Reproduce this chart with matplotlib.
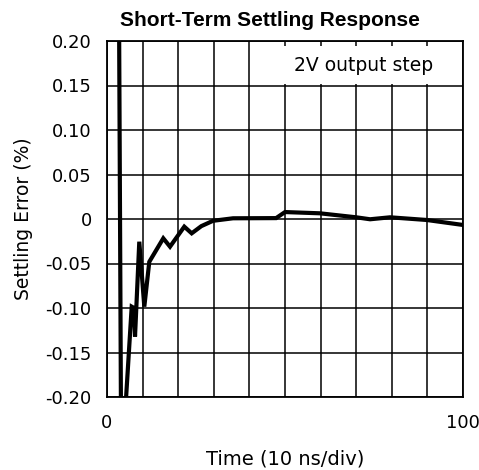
"""Short-term settling response: settling error (%) vs time, 10 ns/div."""
import matplotlib
matplotlib.use("Agg")
import matplotlib.pyplot as plt
from matplotlib.ticker import FixedLocator, FuncFormatter

# (x in divisions*10, y in %)
time_div = [3.3, 3.95, 4.75, 6.94, 7.6, 7.87, 9.07, 10.48, 11.88, 15.81, 17.70,
            21.71, 23.79, 26.5, 29.8, 35.4, 47.5, 50.0, 59.8, 70.0, 73.9, 79.5,
            89.8, 100.0]
settle_err = [0.30, -0.24, -0.24, -0.0985, -0.10, -0.132, -0.0255, -0.0985, -0.0481,
              -0.0217, -0.0311, -0.0086, -0.0161, -0.008, -0.002, 0.0008, 0.001,
              0.0078, 0.0064, 0.0019, -0.0003, 0.0019, -0.0011, -0.0067]

x_grid = list(range(0, 101, 10))
y_ticks = [-0.20, -0.15, -0.10, -0.05, 0.0, 0.05, 0.10, 0.15, 0.20]
y_labels = ["-0.20", "-0.15", "-0.10", "-0.05", "0", "0.05", "0.10", "0.15", "0.20"]

fig = plt.figure(figsize=(4.79, 4.70), dpi=100)
ax = fig.add_axes([107 / 479, 1 - 397 / 470, 356 / 479, 356 / 470])

ax.plot(time_div, settle_err, color="black", lw=3.0, solid_joinstyle="miter", zorder=4)

ax.set_xlim(0, 100)
ax.set_ylim(-0.2, 0.2)
ax.xaxis.set_major_locator(FixedLocator(x_grid))
ax.xaxis.set_major_formatter(FuncFormatter(lambda v, _: f"{v:.0f}" if v in (0, 100) else ""))
ax.set_yticks(y_ticks)
ax.set_yticklabels(y_labels)
ax.tick_params(length=0, labelsize=13)
ax.tick_params(axis="x", pad=12)
ax.tick_params(axis="y", pad=11)
ax.grid(True, color="black", lw=1.1)
ax.set_axisbelow(True)
for s in ax.spines.values():
    s.set_linewidth(1.3)

ax.text(0.72, 0.932, "2V output step", transform=ax.transAxes, ha="center", va="center",
        fontsize=13.5, zorder=3,
        bbox=dict(facecolor="white", edgecolor="none", boxstyle="square,pad=0.5"))

ax.set_xlabel("Time (10 ns/div)", fontsize=14, labelpad=13)
ax.set_ylabel("Settling Error (%)", fontsize=13.5, labelpad=9)
fig.text(270 / 479, 1 - 20 / 470, "Short-Term Settling Response", ha="center", va="center",
         fontsize=15, fontweight="bold", family="Liberation Sans")

fig.savefig("out.png", dpi=100)
